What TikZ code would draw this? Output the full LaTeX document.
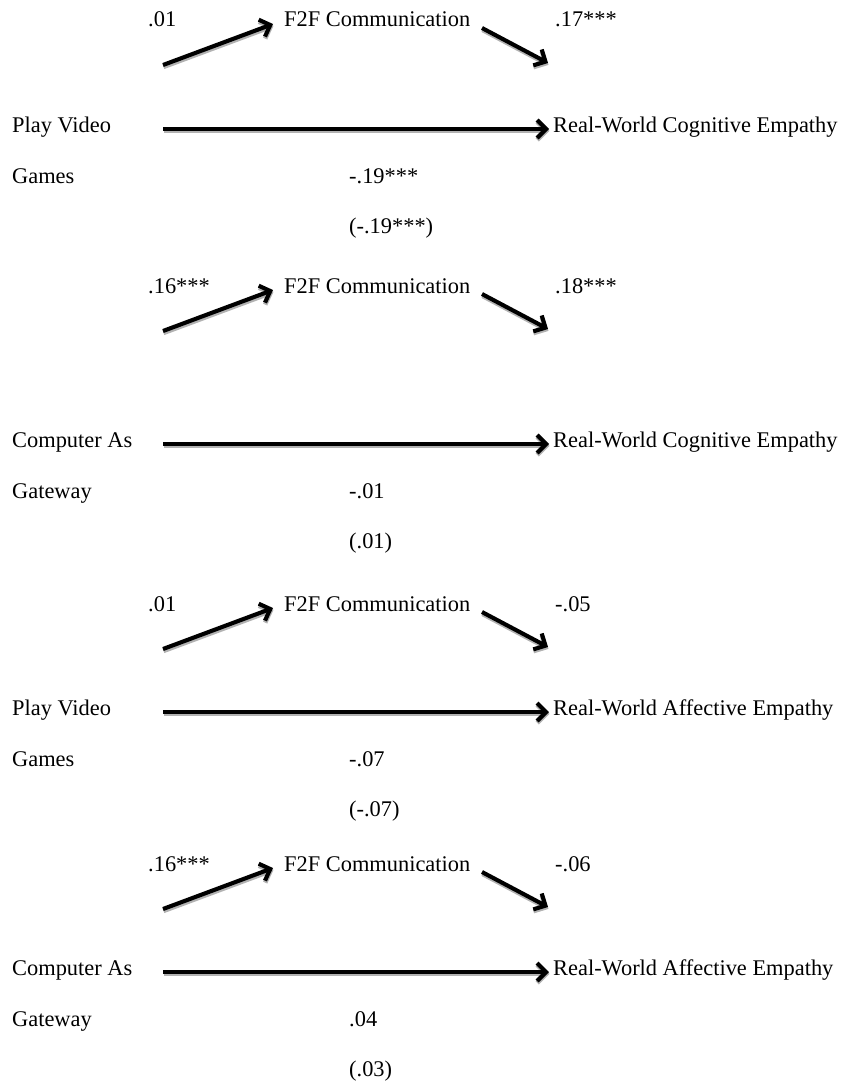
\documentclass[tikz,border=0pt]{standalone}
\usepackage{fontspec}
\setmainfont{Liberation Serif}
\usetikzlibrary{arrows.meta}
\begin{document}
\begin{tikzpicture}[x=1pt,y=-1pt,
  lbl/.style={anchor=base west, inner sep=0pt, font=\fontsize{22.4}{26}\selectfont},
  patharrow/.style={line width=4.1pt, -{Straight Barb[length=9pt,width=18pt]},
    preaction={draw=black!30, line width=4.6pt, transform canvas={shift={(0.5pt,-1.9pt)}}}}
]
\useasboundingbox (0,0) rectangle (845,1084);
% one mediation panel per row of the list:
% id / top baseline / predictor baseline / a / b / predictor (two lines) / outcome / direct / total
\foreach \bid/\ytop/\ymain/\cfa/\cfb/\prA/\prB/\kind/\cdir/\ctot in {
  1/27/132/.01/.17***/Play Video/Games/Cognitive/-.19***/(-.19***),
  2/293/447/.16***/.18***/Computer As/Gateway/Cognitive/-.01/(.01),
  3/611/715/.01/-.05/Play Video/Games/Affective/-.07/(-.07),
  4/871/975/.16***/-.06/Computer As/Gateway/Affective/.04/(.03)}{
  \node[lbl] (a\bid) at (148,\ytop) {\cfa};
  \node[lbl] (m\bid) at (284,\ytop) {F2F Communication};
  \node[lbl] (b\bid) at (555,\ytop) {\cfb};
  \node[lbl] (x\bid) at (12,\ymain) {\prA};
  \node[lbl] (xx\bid) at (12,\ymain+51) {\prB};
  \node[lbl] (y\bid) at (553,\ymain) {Real-World \kind{} Empathy};
  \node[lbl] (c\bid) at (349,\ymain+51) {\cdir};
  \node[lbl] (cc\bid) at (349,\ymain+101) {\ctot};
  % arrow end points
  \coordinate (ut\bid) at (163,\ytop+38);
  \coordinate (uh\bid) at (273,\ytop-3);
  \coordinate (dt\bid) at (482,\ytop+1);
  \coordinate (dh\bid) at (548,\ytop+36);
  \coordinate (ht\bid) at (163,\ymain-3);
  \coordinate (hh\bid) at (549,\ymain-3);
  \draw[patharrow] (ut\bid) -- (uh\bid);
  \draw[patharrow] (dt\bid) -- (dh\bid);
  \draw[patharrow] (ht\bid) -- (hh\bid);
}
\end{tikzpicture}
\end{document}
